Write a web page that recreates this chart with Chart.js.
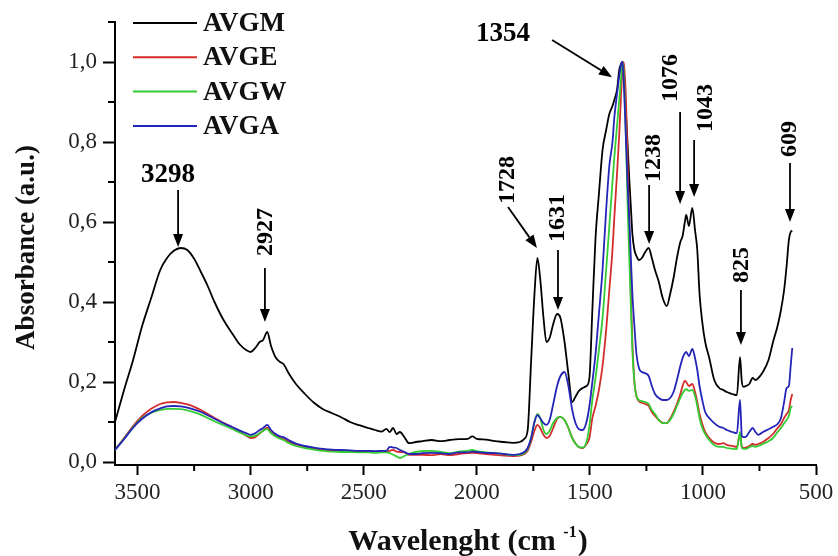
<!DOCTYPE html>
<html>
<head>
<meta charset="utf-8">
<script src="https://cdn.jsdelivr.net/npm/chart.js@4/dist/chart.umd.min.js"></script>
<style>
html,body{margin:0;padding:0;background:#fff;}
#wrap{width:838px;height:556px;position:relative;}
</style>
</head>
<body>
<div id="wrap"><canvas id="c" width="838" height="556"></canvas></div>
<script>
// ---------- DATA ----------
const wavenumbers = [
  3600, 3560, 3520, 3480, 3440, 3400, 3370, 3340, 3310, 3280,
  3250, 3220, 3190, 3160, 3120, 3080, 3050, 3020, 3000, 2980,
  2960, 2945, 2927, 2910, 2890, 2870, 2855, 2830, 2800, 2760,
  2720, 2680, 2640, 2600, 2560, 2520, 2480, 2450, 2420, 2400,
  2385, 2370, 2355, 2340, 2320, 2300, 2270, 2240, 2200, 2160,
  2120, 2080, 2040, 2020, 2000, 1960, 1920, 1880, 1840, 1810,
  1790, 1775, 1760, 1745, 1732, 1720, 1705, 1692, 1678, 1662,
  1645, 1630, 1612, 1595, 1578, 1562, 1548, 1532, 1515, 1502,
  1489, 1475, 1460, 1444, 1428, 1414, 1400, 1392, 1380, 1370,
  1362, 1356, 1350, 1340, 1332, 1325, 1318, 1312, 1303, 1294,
  1283, 1270, 1255, 1240, 1226, 1212, 1195, 1178, 1160, 1145,
  1130, 1115, 1100, 1090, 1080, 1074, 1062, 1047, 1035, 1025,
  1015, 1003, 990, 972, 950, 928, 910, 895, 870, 850,
  836, 828, 820, 810, 795, 780, 768, 755, 735, 710,
  690, 670, 655, 641, 630, 620, 612, 605
];
const avgm = [
  .10, .18, .255, .34, .41, .48, .51, .528, .535, .53,
  .508, .475, .44, .40, .355, .32, .295, .28, .275, .285,
  .30, .305, .325, .29, .262, .25, .245, .22, .195, .17,
  .148, .132, .122, .112, .10, .092, .085, .08, .076, .083,
  .075, .085, .07, .075, .062, .047, .05, .052, .055, .052,
  .055, .057, .058, .064, .058, .056, .052, .05, .048, .05,
  .058, .08, .25, .42, .51, .46, .36, .30, .31, .345,
  .37, .36, .30, .22, .15, .165, .178, .185, .19, .21,
  .38, .56, .67, .78, .83, .87, .89, .905, .93, .98,
  .995, 1.0, .97, .87, .78, .70, .63, .57, .53, .515,
  .505, .51, .525, .535, .51, .48, .45, .41, .39, .42,
  .46, .51, .55, .565, .60, .618, .59, .635, .58, .53,
  .42, .35, .30, .26, .205, .185, .18, .175, .17, .167,
  .262, .20, .188, .19, .195, .21, .205, .21, .225, .255,
  .30, .34, .38, .43, .49, .555, .575, .578
];
const avge = [
  .03, .06, .09, .115, .133, .145, .149, .15, .148, .144,
  .138, .13, .12, .11, .098, .086, .076, .066, .06, .062,
  .072, .078, .086, .075, .066, .06, .057, .05, .044, .038,
  .034, .031, .029, .028, .027, .027, .026, .026, .027, .026,
  .028, .03, .026, .025, .024, .018, .018, .018, .017, .02,
  .017, .02, .022, .023, .022, .02, .018, .016, .015, .016,
  .02, .028, .05, .078, .093, .085, .068, .06, .065, .085,
  .108, .113, .105, .085, .06, .045, .037, .035, .045, .06,
  .11, .14, .18, .24, .33, .43, .53, .61, .72, .82,
  .92, .98, 1.0, .90, .72, .55, .40, .30, .20, .165,
  .152, .148, .145, .14, .125, .115, .105, .098, .097, .108,
  .125, .145, .17, .19, .203, .20, .19, .195, .175, .15,
  .12, .095, .075, .06, .048, .045, .047, .043, .04, .038,
  .07, .038, .035, .036, .04, .045, .043, .045, .05, .06,
  .07, .085, .095, .11, .12, .13, .155, .17
];
const avgw = [
  .03, .058, .087, .11, .123, .13, .133, .133, .132, .129,
  .124, .118, .11, .102, .092, .082, .074, .067, .064, .066,
  .072, .078, .082, .072, .064, .058, .055, .047, .04, .035,
  .031, .028, .026, .025, .025, .024, .024, .023, .024, .024,
  .022, .018, .014, .01, .015, .02, .025, .027, .028, .025,
  .022, .026, .028, .03, .027, .024, .022, .02, .017, .018,
  .022, .032, .06, .10, .12, .11, .08, .07, .078, .098,
  .11, .113, .105, .085, .06, .045, .037, .036, .05, .09,
  .155, .21, .28, .36, .48, .59, .70, .76, .84, .905,
  .96, 1.0, .97, .80, .62, .50, .38, .28, .20, .165,
  .155, .152, .15, .145, .13, .12, .105, .097, .097, .105,
  .12, .14, .16, .172, .18, .182, .178, .18, .165, .14,
  .11, .085, .07, .055, .042, .038, .038, .035, .033, .032,
  .075, .035, .033, .033, .037, .04, .038, .04, .045, .052,
  .06, .075, .085, .097, .105, .115, .135, .14
];
const avga = [
  .03, .057, .086, .108, .124, .134, .139, .14, .139, .136,
  .131, .125, .117, .108, .097, .087, .079, .072, .068, .072,
  .08, .085, .093, .08, .07, .064, .062, .054, .046, .04,
  .036, .033, .031, .03, .029, .028, .028, .027, .028, .028,
  .038, .036, .035, .03, .025, .02, .02, .022, .023, .022,
  .02, .024, .024, .026, .025, .023, .022, .02, .018, .02,
  .025, .035, .06, .10, .117, .11, .097, .093, .105, .145,
  .19, .215, .225, .19, .13, .095, .082, .08, .10, .14,
  .20, .27, .37, .48, .63, .74, .80, .86, .92, .965,
  .995, 1.0, .95, .80, .68, .60, .50, .42, .34, .27,
  .235, .225, .222, .215, .19, .17, .16, .155, .155, .16,
  .175, .205, .24, .26, .272, .275, .265, .283, .26, .23,
  .19, .155, .125, .11, .097, .088, .085, .08, .075, .072,
  .155, .065, .062, .063, .075, .085, .075, .068, .075, .082,
  .088, .095, .11, .15, .185, .19, .24, .285
];
const seriesNames = ['AVGM', 'AVGE', 'AVGW', 'AVGA'];
const seriesValues = [avgm, avge, avgw, avga];
const seriesColors = ['#000000', '#d42c2c', '#33cc33', '#2424b8'];

const xMajorTicks = [3500, 3000, 2500, 2000, 1500, 1000, 500];
const xMinorTicks = [3250, 2750, 2250, 1750, 1250, 750];
const yMajorTicks = [0, 0.2, 0.4, 0.6, 0.8, 1.0];
const yMinorTicks = [0.1, 0.3, 0.5, 0.7, 0.9, 1.1];

const xTitle = 'Wavelenght (cm ';
const xTitleSup = '-1';
const yTitle = 'Absorbance (a.u.)';

// peak annotations: label, orientation, text anchor and arrow in data units
const peakLabels = [
  {text: '3298', rot: false, tx: 3366, ty: 0.72,  ax1: 3321, ay1: 0.68,  ax2: 3321, ay2: 0.5375},
  {text: '2927', rot: true,  tx: 2937, ty: 0.575, ax1: 2937, ay1: 0.485, ax2: 2937, ay2: 0.35},
  {text: '1354', rot: false, tx: 1884, ty: 1.072, ax1: 1667, ay1: 1.055, ax2: 1402, ay2: 0.962},
  {text: '1728', rot: true,  tx: 1866, ty: 0.705, ax1: 1862, ay1: 0.6375, ax2: 1734, ay2: 0.535},
  {text: '1631', rot: true,  tx: 1645, ty: 0.61,  ax1: 1641, ay1: 0.53,  ax2: 1641, ay2: 0.38},
  {text: '1238', rot: true,  tx: 1221, ty: 0.76,  ax1: 1238, ay1: 0.6925, ax2: 1238, ay2: 0.545},
  {text: '1076', rot: true,  tx: 1146, ty: 0.96,  ax1: 1101, ay1: 0.875, ax2: 1101, ay2: 0.645},
  {text: '1043', rot: true,  tx: 991,  ty: 0.885, ax1: 1039, ay1: 0.805, ax2: 1039, ay2: 0.6625},
  {text: '825',  rot: true,  tx: 832,  ty: 0.4925, ax1: 832, ay1: 0.43,  ax2: 832, ay2: 0.2925},
  {text: '609',  rot: true,  tx: 619,  ty: 0.8075, ax1: 615, ay1: 0.7475, ax2: 615, ay2: 0.60}
];

// ---------- CHART ----------
const SERIF = '"Liberation Serif", "Times New Roman", serif';

const datasets = seriesNames.map((name, k) => ({
  label: name,
  data: wavenumbers.map((w, i) => ({x: w, y: seriesValues[k][i]})),
  borderColor: seriesColors[k],
  backgroundColor: seriesColors[k],
  borderWidth: 1.8,
  pointRadius: 0,
  cubicInterpolationMode: 'monotone',
  fill: false,
  order: 4 - k
}));

function arrow(ctx, x1, y1, x2, y2) {
  const ang = Math.atan2(y2 - y1, x2 - x1);
  const L = 13, W = 5;
  const bx = x2 - L * Math.cos(ang), by = y2 - L * Math.sin(ang);
  ctx.beginPath();
  ctx.moveTo(x1, y1);
  ctx.lineTo(bx, by);
  ctx.stroke();
  ctx.beginPath();
  ctx.moveTo(x2, y2);
  ctx.lineTo(bx + W * Math.sin(ang), by - W * Math.cos(ang));
  ctx.lineTo(bx - W * Math.sin(ang), by + W * Math.cos(ang));
  ctx.closePath();
  ctx.fill();
}

const decorPlugin = {
  id: 'decor',
  afterDraw(chart) {
    const ctx = chart.ctx;
    const xs = chart.scales.x, ys = chart.scales.y;
    const area = chart.chartArea;
    ctx.save();
    ctx.strokeStyle = '#000';
    ctx.fillStyle = '#000';
    // minor ticks
    ctx.lineWidth = 2;
    xMinorTicks.forEach(v => {
      const p = xs.getPixelForValue(v);
      ctx.beginPath(); ctx.moveTo(p, area.bottom); ctx.lineTo(p, area.bottom + 6); ctx.stroke();
    });
    yMinorTicks.forEach(v => {
      const p = ys.getPixelForValue(v);
      ctx.beginPath(); ctx.moveTo(area.left - 7, p); ctx.lineTo(area.left, p); ctx.stroke();
    });

    // legend
    const lx = area.left + 18, ly = area.top + 1, lstep = 34.3;
    seriesNames.forEach((name, k) => {
      const y = ly + k * lstep;
      ctx.strokeStyle = seriesColors[k];
      ctx.lineWidth = 2;
      ctx.beginPath(); ctx.moveTo(lx, y); ctx.lineTo(lx + 64, y); ctx.stroke();
      ctx.fillStyle = '#111';
      ctx.font = 'bold 27px ' + SERIF;
      ctx.textAlign = 'left';
      ctx.textBaseline = 'middle';
      ctx.fillText(name, lx + 70, y + 1);
    });

    // peak annotations
    ctx.strokeStyle = '#000';
    ctx.fillStyle = '#000';
    ctx.lineWidth = 1.8;
    peakLabels.forEach(pk => {
      const tx = xs.getPixelForValue(pk.tx), ty = ys.getPixelForValue(pk.ty);
      ctx.save();
      ctx.font = (pk.rot ? 'bold 24px ' : 'bold 27px ') + SERIF;
      ctx.textAlign = 'center';
      ctx.textBaseline = 'middle';
      ctx.translate(tx, ty);
      if (pk.rot) ctx.rotate(-Math.PI / 2);
      ctx.fillText(pk.text, 0, 1);
      ctx.restore();
      arrow(ctx,
        xs.getPixelForValue(pk.ax1), ys.getPixelForValue(pk.ay1),
        xs.getPixelForValue(pk.ax2), ys.getPixelForValue(pk.ay2));
    });

    // y title
    ctx.save();
    ctx.fillStyle = '#111';
    ctx.font = 'bold 27px ' + SERIF;
    ctx.textAlign = 'center';
    ctx.textBaseline = 'middle';
    ctx.translate(27, (area.top + area.bottom) / 2 + 4);
    ctx.rotate(-Math.PI / 2);
    ctx.fillText(yTitle, 0, 0);
    ctx.restore();

    // x title with superscript
    ctx.save();
    ctx.fillStyle = '#111';
    ctx.textBaseline = 'alphabetic';
    ctx.textAlign = 'left';
    const mainFont = 'bold 30px ' + SERIF, supFont = 'bold 16px ' + SERIF;
    ctx.font = mainFont; const w1 = ctx.measureText(xTitle).width;
    ctx.font = supFont; const w2 = ctx.measureText(xTitleSup).width;
    ctx.font = mainFont; const w3 = ctx.measureText(')').width;
    const cx = (area.left + area.right) / 2 + 2;
    const x0 = cx - (w1 + w2 + w3) / 2;
    const base = 550;
    ctx.font = mainFont; ctx.fillText(xTitle, x0, base);
    ctx.font = supFont; ctx.fillText(xTitleSup, x0 + w1, base - 13);
    ctx.font = mainFont; ctx.fillText(')', x0 + w1 + w2 + 1, base);
    ctx.restore();

    ctx.restore();
  }
};

new Chart(document.getElementById('c'), {
  type: 'line',
  data: {datasets},
  options: {
    responsive: false,
    animation: false,
    devicePixelRatio: 1,
    layout: {padding: {left: 0, right: 22, top: 22, bottom: 0}},
    plugins: {legend: {display: false}, tooltip: {enabled: false}},
    elements: {line: {borderJoinStyle: 'round'}},
    scales: {
      x: {
        type: 'linear',
        reverse: true,
        min: 500,
        max: 3600,
        afterBuildTicks: s => { s.ticks = xMajorTicks.map(v => ({value: v})); },
        afterFit: s => { s.height = 91; },
        ticks: {
          autoSkip: false, maxRotation: 0, padding: 4,
          color: '#222',
          font: {family: SERIF, size: 23},
          callback: v => String(v)
        },
        grid: {display: true, drawOnChartArea: false, drawTicks: true, tickLength: 10, tickWidth: 2, tickColor: '#000'},
        border: {display: true, color: '#000', width: 2}
      },
      y: {
        type: 'linear',
        min: -0.0075,
        max: 1.1,
        afterBuildTicks: s => { s.ticks = yMajorTicks.map(v => ({value: v})); },
        afterFit: s => { s.width = 115; },
        ticks: {
          autoSkip: false, padding: 6,
          color: '#222',
          font: {family: SERIF, size: 23},
          callback: v => v.toFixed(1).replace('.', ',')
        },
        grid: {display: true, drawOnChartArea: false, drawTicks: true, tickLength: 12, tickWidth: 2, tickColor: '#000'},
        border: {display: true, color: '#000', width: 2}
      }
    }
  },
  plugins: [decorPlugin]
});
</script>
</body>
</html>
